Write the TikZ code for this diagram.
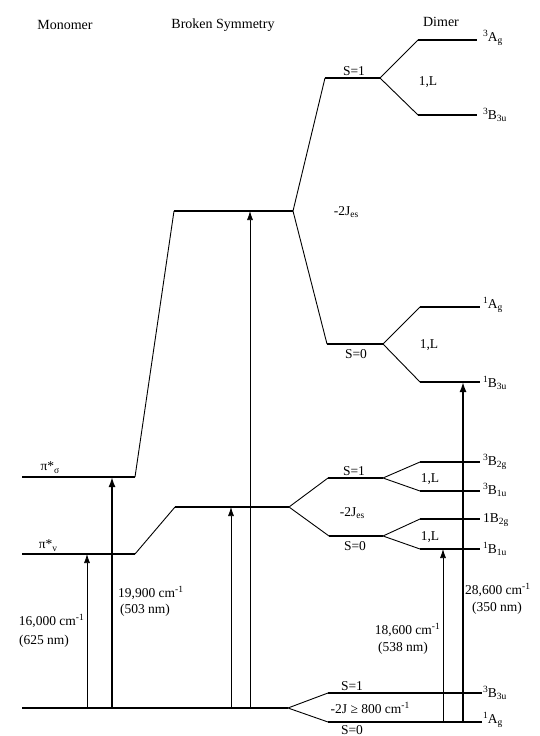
\documentclass[tikz,border=0pt]{standalone}
\usepackage{fontspec}
\setmainfont{Liberation Serif}
\usetikzlibrary{arrows.meta}
\newcommand\lsub[1]{\raisebox{-0.45ex}{\fontsize{9.5}{10}\selectfont #1}}
\newcommand\lsup[1]{\raisebox{0.75ex}{\fontsize{9.5}{10}\selectfont #1}}
\begin{document}
\begin{tikzpicture}[x=1pt,y=-1pt,
  lvl/.style={line width=1.3pt},
  con/.style={line width=0.9pt},
  thinarr/.style={line width=0.7pt,-{Latex[length=9pt,width=6pt]}},
  thickarr/.style={line width=1.7pt,-{Latex[length=10pt,width=7pt]}},
  lab/.style={font=\fontsize{13.5}{15}\selectfont, inner sep=0pt},
  head/.style={font=\fontsize{14}{16}\selectfont, inner sep=0pt},
  st/.style={lab, anchor=west}]
\useasboundingbox (0,0) rectangle (540,736);
% ---------- coordinates ----------
% monomer
\coordinate (ms1) at (22,477); \coordinate (ms2) at (135,477);
\coordinate (mv1) at (22,554); \coordinate (mv2) at (135,554);
\coordinate (g1) at (22,708);  \coordinate (g2) at (288,708);
% broken symmetry
\coordinate (bu1) at (174,211); \coordinate (bu2) at (293,211);
\coordinate (bl1) at (175,507); \coordinate (bl2) at (289,507);
% dimer, upper
\coordinate (t1a) at (325,78);  \coordinate (t1b) at (380,78);
\coordinate (t0a) at (327,344); \coordinate (t0b) at (383,344);
\coordinate (a3a) at (418,40);  \coordinate (a3b) at (477,40);
\coordinate (b3a) at (418,115); \coordinate (b3b) at (477,115);
\coordinate (a1a) at (420,307); \coordinate (a1b) at (480,307);
\coordinate (b1a) at (420,382); \coordinate (b1b) at (480,382);
% dimer, middle
\coordinate (m1a) at (328,478); \coordinate (m1b) at (383,478);
\coordinate (m0a) at (329,536); \coordinate (m0b) at (383,536);
\coordinate (c1a) at (420,462); \coordinate (c1b) at (480,462);
\coordinate (c2a) at (420,491); \coordinate (c2b) at (480,491);
\coordinate (c3a) at (420,519); \coordinate (c3b) at (480,519);
\coordinate (c4a) at (420,549); \coordinate (c4b) at (480,549);
% dimer, bottom
\coordinate (s1a) at (328,693); \coordinate (s1b) at (482,693);
\coordinate (s0a) at (328,722); \coordinate (s0b) at (482,722);
% ---------- levels ----------
\draw[lvl] (ms1) -- (ms2);
\draw[lvl] (mv1) -- (mv2);
\draw[lvl] (g1) -- (g2);
\draw[lvl] (bu1) -- (bu2);
\draw[lvl] (bl1) -- (bl2);
\draw[lvl] (t1a) -- (t1b);
\draw[lvl] (t0a) -- (t0b);
\draw[lvl] (a3a) -- (a3b);
\draw[lvl] (b3a) -- (b3b);
\draw[lvl] (a1a) -- (a1b);
\draw[lvl] (b1a) -- (b1b);
\draw[lvl] (m1a) -- (m1b);
\draw[lvl] (m0a) -- (m0b);
\draw[lvl] (c1a) -- (c1b);
\draw[lvl] (c2a) -- (c2b);
\draw[lvl] (c3a) -- (c3b);
\draw[lvl] (c4a) -- (c4b);
\draw[lvl] (s1a) -- (s1b);
\draw[lvl] (s0a) -- (s0b);
% ---------- correlation lines ----------
\draw[con] (ms2) -- (bu1);
\draw[con] (mv2) -- (bl1);
\draw[con] (t1a) -- (bu2) -- (t0a);
\draw[con] (a3a) -- (t1b) -- (b3a);
\draw[con] (a1a) -- (t0b) -- (b1a);
\draw[con] (m1a) -- (bl2) -- (m0a);
\draw[con] (c1a) -- (m1b) -- (c2a);
\draw[con] (c3a) -- (m0b) -- (c4a);
\draw[con] (s1a) -- (g2) -- (s0a);
% ---------- transitions ----------
\coordinate (p1s) at (87,708);  \coordinate (p1e) at (87,554);
\coordinate (p2s) at (112,708); \coordinate (p2e) at (112,477);
\coordinate (p3s) at (231,708); \coordinate (p3e) at (231,507);
\coordinate (p4s) at (250,708); \coordinate (p4e) at (250,211);
\coordinate (p5s) at (443,722); \coordinate (p5e) at (443,549);
\coordinate (p6s) at (463,722); \coordinate (p6e) at (463,382);
\draw[thinarr] (p1s) -- (p1e);
\draw[thickarr] (p2s) -- (p2e);
\draw[thinarr] (p3s) -- (p3e);
\draw[thinarr] (p4s) -- (p4e);
\draw[thinarr] (p5s) -- (p5e);
\draw[thickarr] (p6s) -- (p6e);
% ---------- headings ----------
\node[head] (hmono) at (65,25) {Monomer};
\node[head] (hbs) at (223,25) {Broken Symmetry};
\node[head] (hdim) at (441,22) {Dimer};
% ---------- monomer labels ----------
\node[lab] (lsig) at (50,468) {π*\lsub{σ}};
\node[lab] (lv) at (48,546) {π*\lsub{v}};
% ---------- state labels ----------
\node[st] (l3ag) at (483,38) {\lsup{3}A\lsub{g}};
\node[st] (l3b3u) at (483,115) {\lsup{3}B\lsub{3u}};
\node[st] (l1ag) at (483,305) {\lsup{1}A\lsub{g}};
\node[st] (l1b3u) at (483,383) {\lsup{1}B\lsub{3u}};
\node[st] (l3b2g) at (483,462) {\lsup{3}B\lsub{2g}};
\node[st] (l3b1u) at (483,490) {\lsup{3}B\lsub{1u}};
\node[st] (l1b2g) at (483,520) {1B\lsub{2g}};
\node[st] (l1b1u) at (483,549) {\lsup{1}B\lsub{1u}};
\node[st] (l3b3ub) at (483,693) {\lsup{3}B\lsub{3u}};
\node[st] (l1agb) at (483,720) {\lsup{1}A\lsub{g}};
% ---------- spin labels ----------
\node[lab] (sa) at (354,71) {S=1};
\node[lab] (sb) at (356,354) {S=0};
\node[lab] (sc) at (354,471) {S=1};
\node[lab] (sd) at (355,546) {S=0};
\node[lab] (se) at (352,686) {S=1};
\node[lab] (sf) at (352,730) {S=0};
\node[lab] (la) at (428,82) {1,L};
\node[lab] (lb) at (429,345) {1,L};
\node[lab] (lc) at (430,479) {1,L};
\node[lab] (ld) at (430,537) {1,L};
\node[lab] (ja) at (346,212) {-2J\lsub{es}};
\node[lab] (jb) at (352,513) {-2J\lsub{es}};
\node[lab] (jc) at (370,708) {-2J ≥ 800 cm\lsup{-1}};
% ---------- energies ----------
\node[lab,anchor=east] (e1) at (84,621) {16,000 cm\lsup{-1}};
\node[lab] (e1b) at (44,641) {(625 nm)};
\node[lab,anchor=west] (e2) at (118,593) {19,900 cm\lsup{-1}};
\node[lab] (e2b) at (145,610) {(503 nm)};
\node[lab,anchor=east] (e3) at (440,630) {18,600 cm\lsup{-1}};
\node[lab] (e3b) at (403,648) {(538 nm)};
\node[lab,anchor=west] (e4) at (465,590) {28,600 cm\lsup{-1}};
\node[lab] (e4b) at (497,608) {(350 nm)};
\end{tikzpicture}
\end{document}
